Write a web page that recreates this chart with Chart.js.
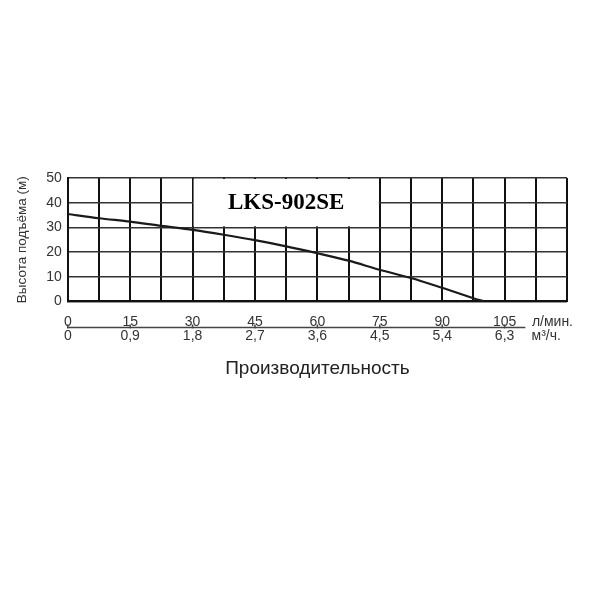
<!DOCTYPE html>
<html>
<head>
<meta charset="utf-8">
<script src="https://cdn.jsdelivr.net/npm/chart.js@4/dist/chart.umd.min.js"></script>
<style>
  html, body { margin: 0; padding: 0; background: #fff; }
  #wrap { width: 600px; height: 600px; }
</style>
</head>
<body>
<div id="wrap"><canvas id="pumpChart" width="600" height="600"></canvas></div>
<script>
// Pump curve data
const flowLmin = [0, 7.5, 15, 22.5, 30, 37.5, 45, 52.5, 60, 67.5, 75, 82.5, 90, 97.5, 100];
const headM = [35.4, 33.7, 32.3, 30.6, 29, 27, 24.8, 22.3, 19.5, 16.5, 12.8, 9.5, 5.5, 1.3, 0];

// Tick labels of the two flow axes below the chart
const lminTicks = [0, 15, 30, 45, 60, 75, 90, 105];
const m3hLabels = ['0', '0,9', '1,8', '2,7', '3,6', '4,5', '5,4', '6,3'];
const headTicks = [0, 10, 20, 30, 40, 50];

const modelName = 'LKS-902SE';
const unitLmin = 'л/мин.';
const unitM3h = 'м³/ч.';
const UNIT_POS = 116.5; // where the unit text sits on the flow scale

// white box with the model name, covering the grid cells 30..75 / 30..50
const titleBox = {
  id: 'titleBox',
  beforeDatasetsDraw(chart) {
    const { ctx, scales } = chart;
    const x1 = scales.x.getPixelForValue(30) + 1;
    const x2 = scales.x.getPixelForValue(75) - 1;
    const y1 = scales.y.getPixelForValue(50) + 1;
    const y2 = scales.y.getPixelForValue(30) - 1;
    ctx.save();
    ctx.fillStyle = '#fff';
    ctx.fillRect(x1, y1, x2 - x1, y2 - y1);
    ctx.fillStyle = '#000';
    ctx.font = 'bold 23px "Liberation Serif", "Times New Roman", serif';
    ctx.textAlign = 'center';
    ctx.textBaseline = 'middle';
    ctx.fillText(modelName, (x1 + x2) / 2, (y1 + y2) / 2);
    ctx.restore();
  }
};

// the flow axis line (with its tick marks) sits between the two rows of labels
const flowLine = {
  id: 'flowLine',
  afterDraw(chart) {
    const { ctx } = chart;
    const s = chart.scales.xm;
    const y = s.top;
    ctx.save();
    ctx.strokeStyle = '#444';
    ctx.lineWidth = 1.5;
    ctx.beginPath();
    ctx.moveTo(s.getPixelForValue(0), y);
    ctx.lineTo(s.getPixelForValue(110), y);
    lminTicks.forEach(v => {
      const x = s.getPixelForValue(v);
      ctx.moveTo(x, y - 3);
      ctx.lineTo(x, y + 1);
    });
    ctx.stroke();
    ctx.restore();
  }
};

const tickFont = { family: 'Arial, "Liberation Sans", sans-serif', size: 14 };

const ctx = document.getElementById('pumpChart').getContext('2d');
const pumpChart = new Chart(ctx, {
  type: 'line',
  data: {
    datasets: [{
      data: flowLmin.map((f, i) => ({ x: f, y: headM[i] })),
      borderColor: '#1a1a1a',
      borderWidth: 2.2,
      pointRadius: 0,
      tension: 0.3,
      fill: false
    }]
  },
  options: {
    responsive: false,
    animation: false,
    layout: { padding: { top: 178, right: 33, bottom: 216, left: 10 } },
    plugins: {
      legend: { display: false },
      tooltip: { enabled: false }
    },
    scales: {
      x: {
        type: 'linear',
        position: 'bottom',
        min: 0,
        max: 120,
        ticks: { display: false, stepSize: 7.5 },
        grid: { color: '#111', lineWidth: 2, drawTicks: false },
        border: { color: '#111', width: 2 }
      },
      xl: {
        type: 'linear',
        position: 'bottom',
        min: 0,
        max: 120,
        afterBuildTicks: (axis) => {
          axis.ticks = lminTicks.map(v => ({ value: v })).concat([{ value: UNIT_POS }]);
        },
        afterFit: (axis) => { axis.height = 26; },
        ticks: {
          font: tickFont,
          color: '#333',
          padding: 12,
          maxRotation: 0,
          autoSkip: false,
          callback: (v) => v === UNIT_POS ? unitLmin : String(v)
        },
        grid: { drawOnChartArea: false, drawTicks: false },
        border: { display: false }
      },
      xm: {
        type: 'linear',
        position: 'bottom',
        min: 0,
        max: 120,
        afterBuildTicks: (axis) => {
          axis.ticks = lminTicks.map(v => ({ value: v })).concat([{ value: UNIT_POS - 1.5 }]);
        },
        ticks: {
          font: tickFont,
          color: '#333',
          padding: 0,
          maxRotation: 0,
          autoSkip: false,
          callback: (v, i) => i < m3hLabels.length ? m3hLabels[i] : unitM3h
        },
        grid: { drawOnChartArea: false, drawTicks: false },
        border: { display: false },
        title: {
          display: true,
          text: 'Производительность',
          font: { family: 'Arial, "Liberation Sans", sans-serif', size: 19 },
          color: '#222',
          padding: { top: 13 }
        }
      },
      y: {
        min: 0,
        max: 50,
        afterBuildTicks: (axis) => {
          axis.ticks = headTicks.map(v => ({ value: v }));
        },
        ticks: { font: { family: 'Arial, "Liberation Sans", sans-serif', size: 14 }, color: '#333', padding: 6 },
        grid: { color: '#333', lineWidth: 1.5, drawTicks: false },
        border: { color: '#111', width: 2 },
        title: {
          display: true,
          text: 'Высота подъёма (м)',
          font: { family: 'Arial, "Liberation Sans", sans-serif', size: 13.5 },
          color: '#333',
          padding: { bottom: 10 }
        }
      }
    }
  },
  plugins: [titleBox, flowLine]
});
</script>
</body>
</html>
